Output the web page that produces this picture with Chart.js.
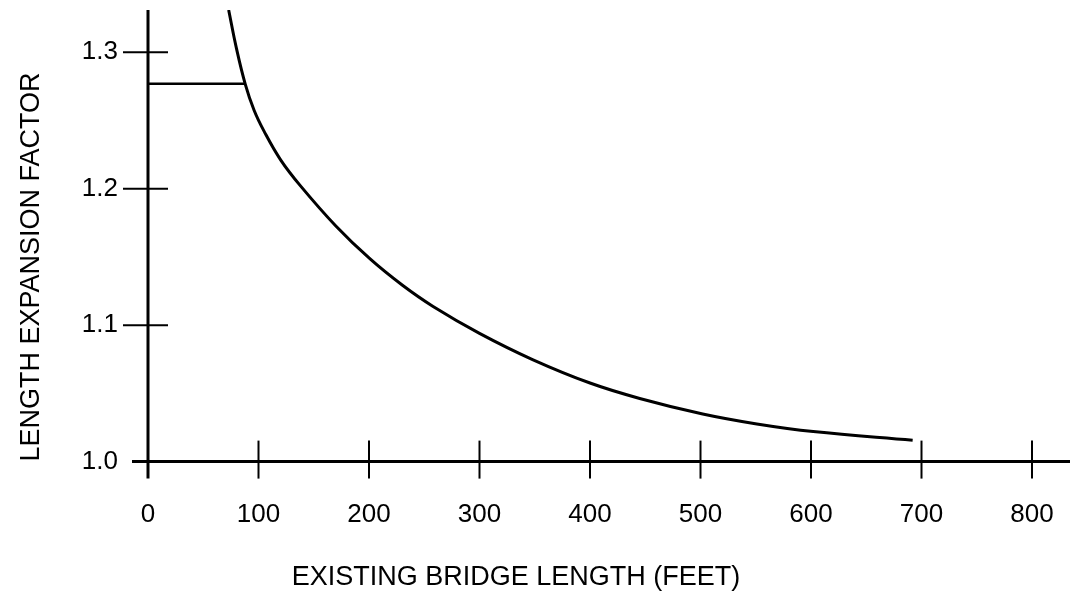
<!DOCTYPE html>
<html lang="en">
<head>
    <meta charset="UTF-8">
    <title>Length expansion factor</title>
    <script src="https://cdn.jsdelivr.net/npm/chart.js"></script>
    <style>
        html, body { margin: 0; padding: 0; background: #fff; }
        #wrap { width: 1070px; height: 599px; }
    </style>
</head>
<body>
    <div id="wrap"><canvas id="chart" width="1070" height="599"></canvas></div>
    <script>
        // Values
        const bridgeLength = [73, 80, 88, 96, 105, 120, 138, 170, 201, 230, 258, 300, 348, 400, 445, 502, 551, 602, 692];
        const expansionFactor = [1.331, 1.303, 1.2767, 1.2575, 1.2422, 1.2212, 1.2021, 1.1727, 1.1485, 1.1294, 1.1137, 1.094, 1.0748, 1.0576, 1.0463, 1.0349, 1.0276, 1.022, 1.0157];
        const markerLength = [0, 88];
        const markerFactor = [1.277, 1.277];
        const xTicks = [0, 100, 200, 300, 400, 500, 600, 700, 800];
        const yTicks = [1.0, 1.1, 1.2, 1.3];

        Chart.defaults.font.family = "'Liberation Sans', Arial, sans-serif";
        Chart.defaults.color = '#000';

        // axis lines + tick marks that cross the axes
        const crossAxes = {
            id: 'crossAxes',
            afterDatasetsDraw(chart) {
                const { ctx, chartArea, scales: { x, y } } = chart;
                const x0 = x.getPixelForValue(0);
                const y0 = y.getPixelForValue(1.0);
                const line = (ax, ay, bx, by) => {
                    ctx.beginPath();
                    ctx.moveTo(ax, ay);
                    ctx.lineTo(bx, by);
                    ctx.stroke();
                };
                ctx.save();
                ctx.strokeStyle = '#000';
                ctx.lineWidth = 3;
                line(x0, chartArea.top, x0, y0 + 17);
                line(x0 - 16, y0, chart.width, y0);
                ctx.lineWidth = 2;
                xTicks.forEach(v => {
                    if (v === 0) return;
                    const px = x.getPixelForValue(v);
                    line(px, y0 - 21, px, y0 + 17);
                });
                yTicks.forEach(v => {
                    if (v === 1.0) return;
                    const py = y.getPixelForValue(v);
                    line(x0 - 25, py, x0 + 20, py);
                });
                ctx.restore();
            }
        };

        new Chart(document.getElementById('chart'), {
            type: 'scatter',
            data: {
                datasets: [{
                    data: bridgeLength.map((v, i) => ({ x: v, y: expansionFactor[i] })),
                    showLine: true,
                    borderColor: '#000',
                    borderWidth: 3,
                    pointRadius: 0,
                    tension: 0.4,
                    fill: false
                }, {
                    data: markerLength.map((v, i) => ({ x: v, y: markerFactor[i] })),
                    showLine: true,
                    borderColor: '#000',
                    borderWidth: 2.5,
                    pointRadius: 0,
                    fill: false
                }]
            },
            options: {
                responsive: false,
                animation: false,
                layout: { padding: { left: 0, right: 38, top: 10, bottom: 0 } },
                plugins: {
                    legend: { display: false },
                    tooltip: { enabled: false },
                    title: {
                        display: true,
                        position: 'bottom',
                        text: 'EXISTING BRIDGE LENGTH (FEET)',
                        color: '#000',
                        font: { size: 27, weight: 'normal' },
                        padding: { top: 0, bottom: 5 }
                    }
                },
                scales: {
                    x: {
                        type: 'linear',
                        min: 0,
                        max: 800,
                        afterBuildTicks: s => { s.ticks = xTicks.map(v => ({ value: v })); },
                        afterFit: s => {
                            s.height = 100;
                            s.paddingLeft = 0;
                            s.paddingRight = 0;
                        },
                        grid: { display: false, drawTicks: false },
                        border: { display: false },
                        ticks: { font: { size: 26 }, padding: 38, maxRotation: 0 }
                    },
                    y: {
                        min: 1.0,
                        max: 1.331,
                        afterBuildTicks: s => { s.ticks = yTicks.map(v => ({ value: v })); },
                        afterFit: s => {
                            s.width = 148;
                            s.paddingTop = 0;
                            s.paddingBottom = 0;
                        },
                        grid: { display: false, drawTicks: false },
                        border: { display: false },
                        ticks: {
                            font: { size: 26 },
                            padding: 30,
                            callback: v => v.toFixed(1)
                        },
                        title: {
                            display: true,
                            text: 'LENGTH EXPANSION FACTOR',
                            align: 'start',
                            font: { size: 27 },
                            padding: { top: 15 }
                        }
                    }
                }
            },
            plugins: [crossAxes]
        });
    </script>
</body>
</html>
